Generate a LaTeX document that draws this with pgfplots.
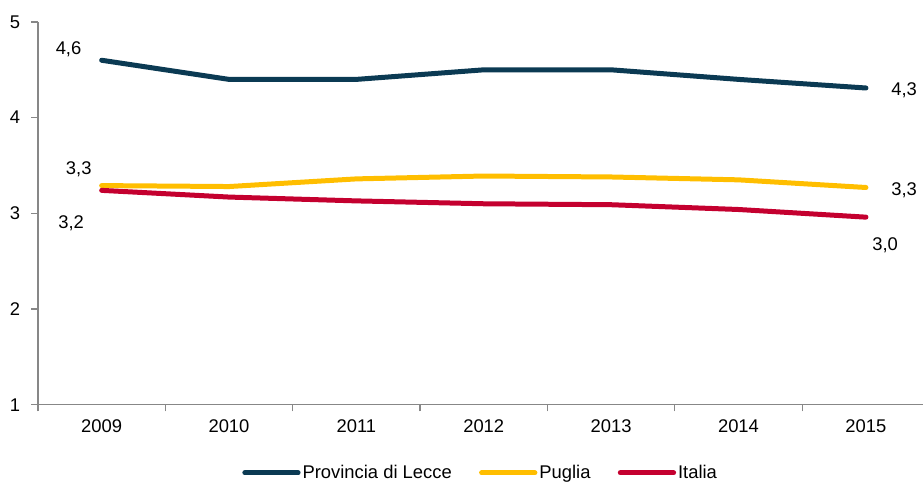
\documentclass[border=0pt]{standalone}
\usepackage{pgfplots}
\pgfplotsset{compat=1.18}
\usepackage{fontspec}
\setmainfont{Liberation Sans}
\definecolor{lecce}{HTML}{0B3A53}
\definecolor{puglia}{HTML}{FFBE00}
\definecolor{italia}{HTML}{C4002F}
\definecolor{axisgray}{HTML}{878787}
\begin{document}
\begin{tikzpicture}
\begin{axis}[
  scale only axis, anchor=south west, at={(0,0)},
  width=664.5pt, height=287.25pt,
  xmin=2008.5, xmax=2015.45, ymin=1, ymax=5,
  axis x line*=bottom, axis y line*=left,
  axis line style={axisgray, line width=1.1pt, -},
  xtick={2009,...,2015},
  xticklabels={2009,2010,2011,2012,2013,2014,2015},
  major x tick style={draw=none},
  minor xtick={2008.5,2009.5,...,2015.5},
  minor x tick style={axisgray, line width=1pt},
  minor tick length=5pt,
  ytick={1,2,3,4,5}, yticklabels={1,2,3,4,5},
  y tick style={axisgray, line width=1pt},
  major tick length=5pt,
  tick align=outside,
  tick label style={font=\fontsize{13.8pt}{16pt}\selectfont},
  xticklabel style={yshift=-3pt},
  yticklabel style={xshift=-5pt},
  clip=false,
  legend columns=3,
  legend style={at={(0.5,-0.178)}, anchor=center, draw=none, fill=none,
    font=\fontsize{13.8pt}{16pt}\selectfont, nodes={inner sep=1.5pt},
    /tikz/every even column/.append style={column sep=19pt}},
  legend image code/.code={\draw[#1, line width=3.75pt, line cap=round] (0pt,0pt) -- (40pt,0pt);},
  every axis plot/.append style={line width=3.75pt, line cap=round, line join=round, mark=none},
]
\addplot[lecce] coordinates {(2009,4.60) (2010,4.40) (2011,4.40) (2012,4.50) (2013,4.50) (2014,4.40) (2015,4.31)};
\addlegendentry{Provincia di Lecce}
\addplot[puglia] coordinates {(2009,3.29) (2010,3.28) (2011,3.36) (2012,3.39) (2013,3.38) (2014,3.35) (2015,3.27)};
\addlegendentry{Puglia}
\addplot[italia] coordinates {(2009,3.24) (2010,3.17) (2011,3.13) (2012,3.10) (2013,3.09) (2014,3.04) (2015,2.96)};
\addlegendentry{Italia}
\begin{scope}[every node/.style={font=\fontsize{13.8pt}{16pt}\selectfont}]
\node at (axis cs:2008.74,4.71) {4,6};
\node at (axis cs:2015.30,4.29) {4,3};
\node at (axis cs:2008.82,3.46) {3,3};
\node at (axis cs:2015.30,3.245) {3,3};
\node at (axis cs:2008.76,2.90) {3,2};
\node at (axis cs:2015.15,2.67) {3,0};
\end{scope}
\end{axis}
\path[use as bounding box] (-28.5pt,-58.5pt) rectangle (664.5pt,303.75pt);
\end{tikzpicture}
\end{document}
